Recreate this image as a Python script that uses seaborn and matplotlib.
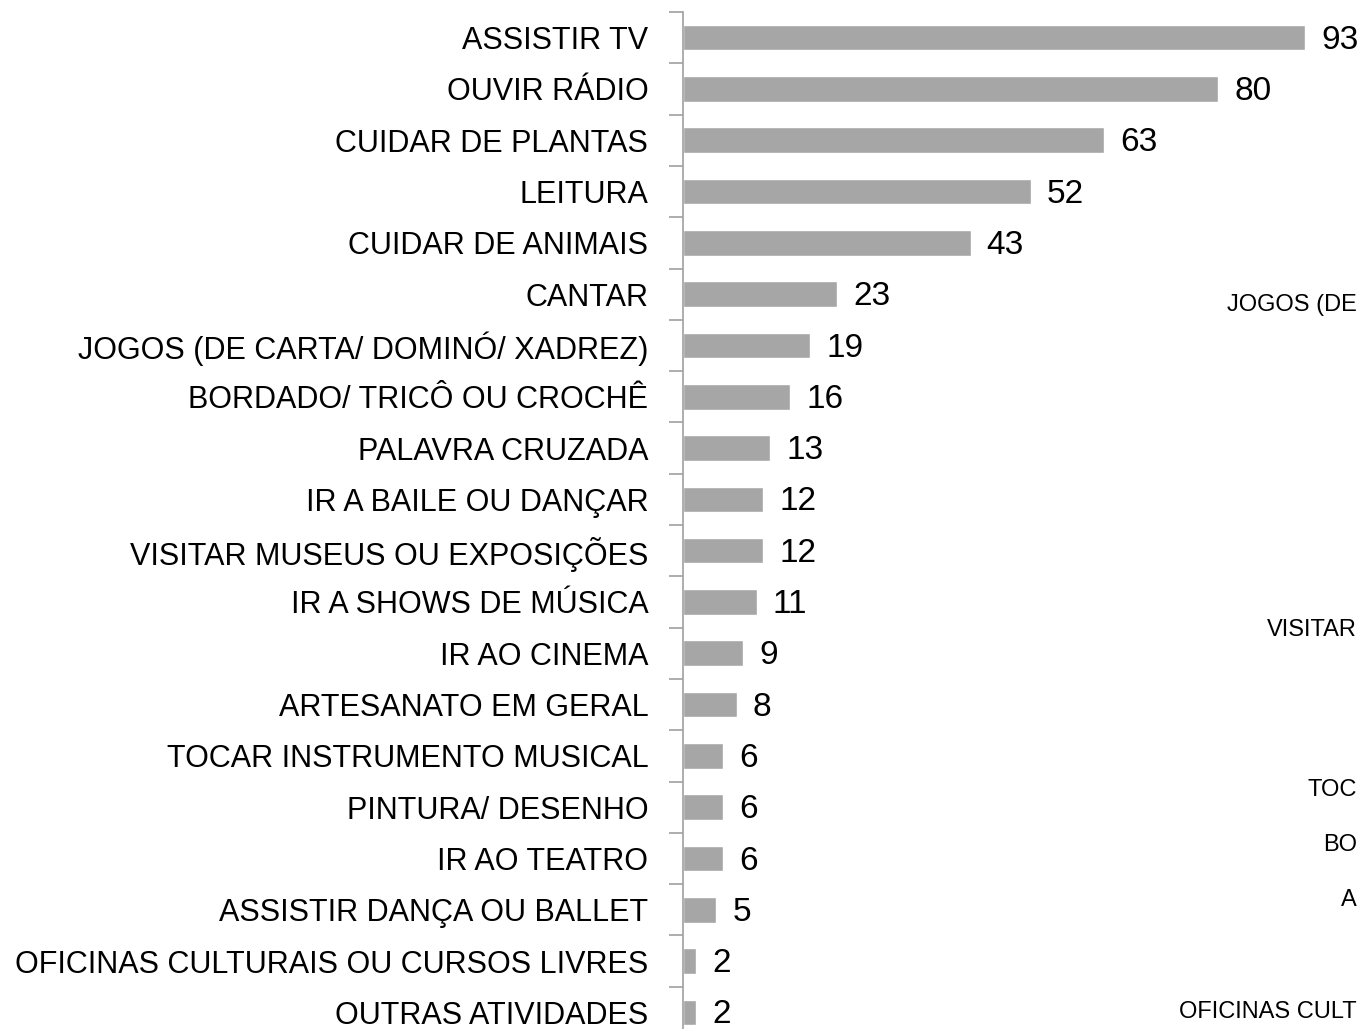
import matplotlib
matplotlib.use("Agg")
import matplotlib.pyplot as plt
import seaborn as sns
import pandas as pd

activities = [
    "ASSISTIR TV", "OUVIR RÁDIO", "CUIDAR DE PLANTAS", "LEITURA",
    "CUIDAR DE ANIMAIS", "CANTAR", "JOGOS (DE CARTA/ DOMINÓ/ XADREZ)",
    "BORDADO/ TRICÔ OU CROCHÊ", "PALAVRA CRUZADA", "IR A BAILE OU DANÇAR",
    "VISITAR MUSEUS OU EXPOSIÇÕES", "IR A SHOWS DE MÚSICA", "IR AO CINEMA",
    "ARTESANATO EM GERAL", "TOCAR INSTRUMENTO MUSICAL", "PINTURA/ DESENHO",
    "IR AO TEATRO", "ASSISTIR DANÇA OU BALLET",
    "OFICINAS CULTURAIS OU CURSOS LIVRES", "OUTRAS ATIVIDADES",
]
counts = [93, 80, 63, 52, 43, 23, 19, 16, 13, 12, 12, 11, 9, 8, 6, 6, 6, 5, 2, 2]

# fragments of a neighbouring chart that show at the right edge
stray_labels = ["JOGOS (DE", "VISITAR", "TOC", "BO", "A", "OFICINAS CULT"]
stray_y = [305, 630, 790, 845, 900, 1012]

df = pd.DataFrame({"activity": activities, "count": counts})

sns.set_style("white")
plt.rcParams["font.family"] = ["Liberation Sans Narrow", "Liberation Sans", "DejaVu Sans"]
plt.rcParams["text.color"] = "black"
plt.rcParams["ytick.color"] = "#a0a0a0"
plt.rcParams["ytick.labelcolor"] = "black"

W, H = 1360, 1029
fig = plt.figure(figsize=(W / 100, H / 100), dpi=100)
# axes placed in pixel terms: spine at x=683, first slot top at y=12
slot = 51.3
top_px = 12
bottom_px = top_px + slot * len(activities)
ax = fig.add_axes([683 / W, 1 - bottom_px / H, (1352 - 683) / W, (bottom_px - top_px) / H])

sns.barplot(data=df, x="count", y="activity", color="#a6a6a6", saturation=1,
            width=0.5, ax=ax)

ax.set_xlim(0, 100)
ax.set_ylim(len(activities) - 0.5, -0.5)
ax.set_xlabel("")
ax.set_ylabel("")
ax.set_xticks([])

for spine in ["top", "right", "bottom"]:
    ax.spines[spine].set_visible(False)
ax.spines["left"].set_color("#a0a0a0")
ax.spines["left"].set_linewidth(1.2)

# category labels without ticks, boundary ticks as minor ticks
ax.tick_params(axis="y", which="major", left=True, length=0, pad=25,
               labelsize=22, labelcolor="black")
ax.set_yticks([i - 0.5 for i in range(len(activities) + 1)], minor=True)
ax.tick_params(axis="y", which="minor", left=True, length=10, color="#a0a0a0", width=1.2)

for i, v in enumerate(counts):
    ax.text(v + 2.4, i + 0.05, str(v), va="center", ha="left", fontsize=24, color="black")

for lab, y in zip(stray_labels, stray_y):
    fig.text(1357 / W, 1 - y / H, lab, ha="right", va="center", fontsize=17, color="black")

fig.savefig("out.png", dpi=100)
